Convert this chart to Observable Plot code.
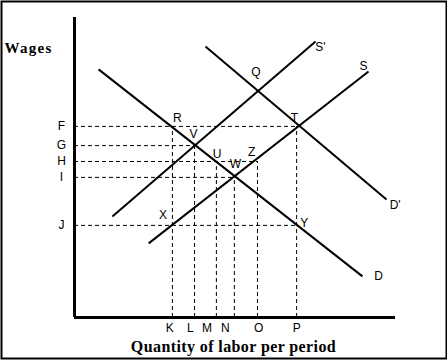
<!DOCTYPE html>
<html><head><meta charset="utf-8">
<script src="https://cdn.jsdelivr.net/npm/d3@7"></script>
<script src="https://cdn.jsdelivr.net/npm/@observablehq/plot@0.6"></script>
<style>body{margin:0;background:#fff}</style>
</head><body><div id="chart"></div>
<script>
// Supply and demand curves (quantity, wage) in chart units 0–100
const curveNames = ["D", "D'", "S", "S'"];
const curveQ0 = [7.5, 40.8, 23.1, 11.8];
const curveW0 = [82.7, 90.3, 24.7, 33.7];
const curveQ1 = [89.7, 97.2, 91.6, 75.1];
const curveW1 = [13.7, 39.3, 82.0, 92.0];

// Wage levels (dashed horizontals) and where each dashed line ends
const wageLabels = ["F", "G", "H", "I", "J"];
const wageValues = [63.7, 57.3, 52.0, 46.7, 30.7];
const wageReach = [69.2, 37.4, 57.0, 49.8, 69.2];

// Quantity levels (dashed verticals) and where each dashed line ends
const qtyLabels = ["K", "L", "M", "N", "O", "P"];
const qtyValues = [30.5, 37.4, 44.2, 49.8, 57.0, 69.2];
const qtyReach = [63.7, 57.3, 52.0, 46.7, 52.0, 63.7];
const qtyLabelAt = [29.7, 36.1, 41.3, 47.0, 57.4, 69.2];

// Point and curve labels
const pointLabels = ["R", "V", "U", "Z", "W", "X", "Q", "T", "Y", "S'", "S", "D'", "D"];
const pointQ = [32.0, 37.1, 44.4, 55.2, 50.1, 27.6, 56.5, 68.5, 71.6, 76.6, 90.0, 99.9, 94.7];
const pointW = [66.3, 61.0, 54.5, 55.0, 51.0, 34.0, 81.8, 66.5, 31.5, 90.0, 83.7, 37.3, 13.8];

const yTitle = "Wages";
const xTitle = "Quantity of labor per period";

const curves = curveNames.map((n, i) => ({n, q0: curveQ0[i], w0: curveW0[i], q1: curveQ1[i], w1: curveW1[i]}));
const wages = wageLabels.map((l, i) => ({l, w: wageValues[i], reach: wageReach[i]}));
const qtys = qtyLabels.map((l, i) => ({l, q: qtyValues[i], reach: qtyReach[i], at: qtyLabelAt[i]}));
const points = pointLabels.map((l, i) => ({l, q: pointQ[i], w: pointW[i]}));

const sans = "Arial, 'Liberation Sans', sans-serif";
const serif = "'Times New Roman', 'Liberation Serif', serif";

const chart = Plot.plot({
  width: 447,
  height: 360,
  marginTop: 1, marginLeft: 1, marginRight: 1, marginBottom: 2,
  x: {domain: [0, 100], range: [74, 395], axis: null},
  y: {domain: [0, 100], range: [317, 17], axis: null},
  style: {background: "white"},
  marks: [
    Plot.frame({stroke: "black", strokeWidth: 2}),
    // dashed guide lines
    Plot.ruleY(wages, {y: "w", x1: 0, x2: "reach", stroke: "black", strokeWidth: 1, strokeDasharray: "4,3"}),
    Plot.ruleX(qtys, {x: "q", y1: 0, y2: "reach", stroke: "black", strokeWidth: 1, strokeDasharray: "4,3"}),
    // axes
    Plot.ruleX([0], {y1: 0, y2: 100, stroke: "black", strokeWidth: 3}),
    Plot.ruleY([0], {x1: 0, x2: 100, stroke: "black", strokeWidth: 3}),
    // curves
    Plot.link(curves, {x1: "q0", y1: "w0", x2: "q1", y2: "w1", stroke: "black", strokeWidth: 2}),
    // tick labels
    Plot.text(wages, {x: 0, y: "w", text: "l", dx: -13, fontSize: 12, fontFamily: sans, fill: "black"}),
    Plot.text(qtys, {x: "at", y: 0, text: "l", dy: 11, fontSize: 12, fontFamily: sans, fill: "black"}),
    // point labels
    Plot.text(points, {x: "q", y: "w", text: "l", fontSize: 12, fontFamily: sans, fill: "black"}),
    // titles
    Plot.text([yTitle], {frameAnchor: "top-left", textAnchor: "start", lineAnchor: "top", dx: 3, dy: 41,
      fontSize: 15, fontWeight: "bold", fontFamily: serif, fill: "black"}),
    Plot.text([xTitle], {frameAnchor: "bottom", lineAnchor: "middle", dx: 9.5, dy: -12,
      fontSize: 16, fontWeight: "bold", fontFamily: serif, fill: "black"})
  ]
});
d3.select(chart).selectAll("text").each(function() {
  const t = this.textContent;
  if (t === yTitle) this.setAttribute("letter-spacing", "1.3px");
  if (t === xTitle) this.setAttribute("letter-spacing", "0.4px");
});
document.getElementById("chart").appendChild(chart);
</script>
</body></html>
